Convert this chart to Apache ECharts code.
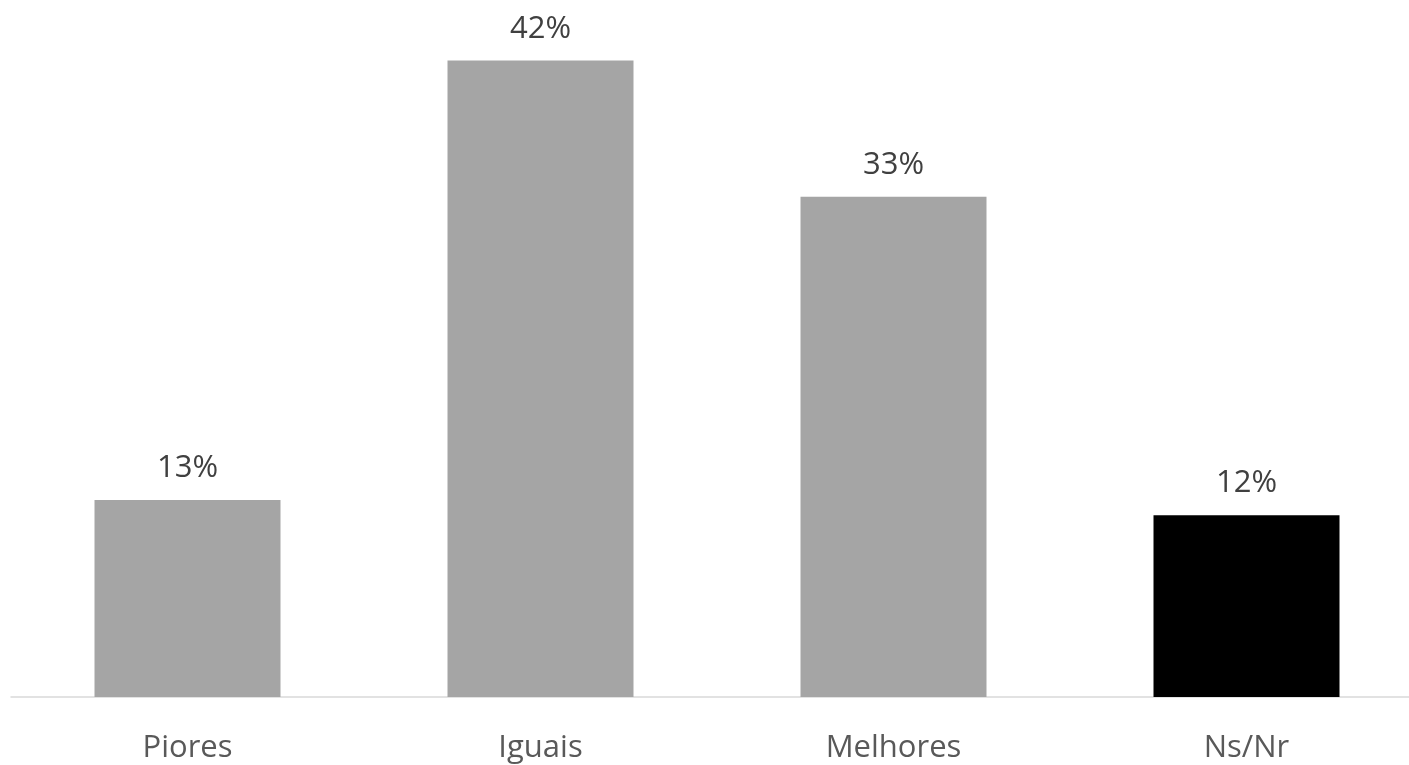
<!DOCTYPE html>
<html><head><meta charset="utf-8">
<script src="https://cdn.jsdelivr.net/npm/echarts@6/dist/echarts.min.js"></script>
<style>html,body{margin:0;padding:0;background:#fff}#c{width:1409px;height:765px}</style>
</head><body><div id="c"></div>
<script>
const categories = ['Piores', 'Iguais', 'Melhores', 'Ns/Nr'];
const values = [13, 42, 33, 12];
const barColors = ['#a5a5a5', '#a5a5a5', '#a5a5a5', '#000000'];

const chart = echarts.init(document.getElementById('c'));
chart.setOption({
  animation: false,
  backgroundColor: '#ffffff',
  grid: { left: 11, right: -14, top: 15, bottom: 68, outerBoundsMode: 'none', containLabel: false },
  xAxis: {
    type: 'category',
    data: categories,
    axisLine: { lineStyle: { color: '#d9d9d9', width: 1.5 } },
    axisTick: { show: false },
    axisLabel: { color: '#595959', fontSize: 31, fontFamily: 'Open Sans', margin: 36 }
  },
  yAxis: { type: 'value', min: 0, max: 45, show: false, splitLine: { show: false } },
  series: [{
    type: 'bar',
    barWidth: 186,
    data: values.map((v, i) => ({ value: v, itemStyle: { color: barColors[i] } })),
    label: { show: true, position: 'top', distance: 16, formatter: '{c}%', color: '#404040', fontSize: 31, fontFamily: 'Open Sans' }
  }]
});
</script></body></html>
